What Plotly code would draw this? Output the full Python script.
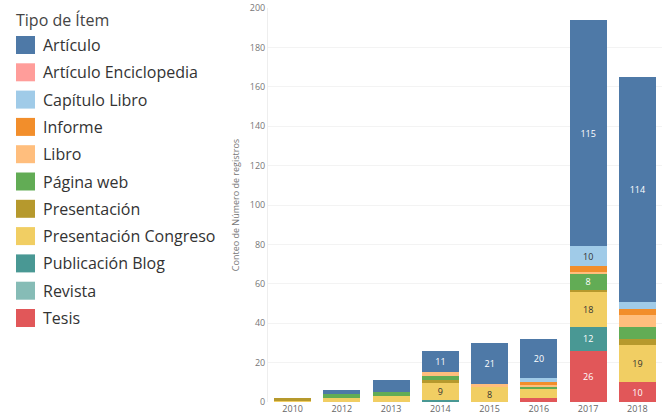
import plotly.graph_objects as go

years = ["2010", "2012", "2013", "2014", "2015", "2016", "2017", "2018"]

item_types = [
    "Artículo", "Artículo Enciclopedia", "Capítulo Libro", "Informe", "Libro",
    "Página web", "Presentación", "Presentación Congreso", "Publicación Blog",
    "Revista", "Tesis",
]

articulo = [0, 2, 6, 11, 21, 20, 115, 114]
articulo_enciclopedia = [0, 0, 0, 0, 0, 0, 0, 0]
capitulo_libro = [0, 0, 0, 0, 0, 2, 10, 4]
informe = [0, 0, 0, 0, 0, 1, 3, 3]
libro = [0, 0, 0, 2, 1, 1, 1, 6]
pagina_web = [0, 2, 2, 2, 0, 1, 8, 6]
presentacion = [1, 0, 0, 1, 0, 0, 1, 3]
presentacion_congreso = [1, 2, 3, 9, 8, 5, 18, 19]
publicacion_blog = [0, 0, 0, 1, 0, 0, 12, 0]
revista = [0, 0, 0, 0, 0, 0, 0, 0]
tesis = [0, 0, 0, 0, 0, 2, 26, 10]

series = [articulo, articulo_enciclopedia, capitulo_libro, informe, libro,
          pagina_web, presentacion, presentacion_congreso, publicacion_blog,
          revista, tesis]

colors = ["#4E79A7", "#FF9D9A", "#A0CBE8", "#F28E2B", "#FFBE7D", "#62AC55",
          "#B6992D", "#F1CE63", "#499894", "#86BCB6", "#E15759"]
label_colors = ["white", "white", "#333333", "white", "#333333", "white",
                "white", "#333333", "white", "#333333", "white"]

W, H = 662, 415
ML, MR, MT, MB = 268, 0, 8, 13
PW, PH = W - ML - MR, H - MT - MB

fig = go.Figure()
# stack from bottom (Tesis) to top (Artículo)
for name, vals, col, lc in reversed(list(zip(item_types, series, colors, label_colors))):
    fig.add_trace(go.Bar(
        x=years, y=vals, name=name,
        marker=dict(color=col, line=dict(width=0)),
        text=[str(v) if v >= 8 else "" for v in vals],
        textposition="inside", insidetextanchor="middle", textangle=0,
        insidetextfont=dict(color=lc, size=9, family="Open Sans"),
        constraintext="none",
        showlegend=False,
    ))


def px_x(p):
    return (p - ML) / PW


def px_y(p):
    return 1 - (p - MT) / PH


# legend drawn at the left of the chart
fig.add_annotation(text="Tipo de Ítem", xref="paper", yref="paper",
                   x=px_x(14), y=px_y(20), xanchor="left", yanchor="middle",
                   showarrow=False, font=dict(size=16, color="#444444"))
for i, (name, col) in enumerate(zip(item_types, colors)):
    cy = 45 + i * 27.3
    fig.add_shape(type="rect", xref="paper", yref="paper",
                  x0=px_x(16), x1=px_x(35), y0=px_y(cy - 9), y1=px_y(cy + 9),
                  fillcolor=col, line=dict(width=0))
    fig.add_annotation(text=name, xref="paper", yref="paper",
                       x=px_x(41), y=px_y(cy), xanchor="left", yanchor="middle",
                       showarrow=False, font=dict(size=16, color="#333333"))

fig.update_layout(
    width=W, height=H,
    barmode="stack", bargap=0.25,
    plot_bgcolor="white", paper_bgcolor="white",
    margin=dict(l=ML, r=MR, t=MT, b=MB),
    font=dict(family="Open Sans", color="#555555"),
    showlegend=False,
    uniformtext=dict(minsize=9, mode="show"),
)
fig.update_xaxes(type="category", tickfont=dict(size=9, color="#666666"),
                 showgrid=False, ticks="", ticklen=0)
fig.update_yaxes(range=[0, 200], dtick=20, tickfont=dict(size=9, color="#777777"),
                 showgrid=True, gridcolor="#f3f3f3", zeroline=False,
                 showline=True, linecolor="#eeeeee", linewidth=1,
                 title=dict(text="Conteo de Número de registros",
                            font=dict(size=9, color="#777777"), standoff=8))

fig.write_html("out.html")
